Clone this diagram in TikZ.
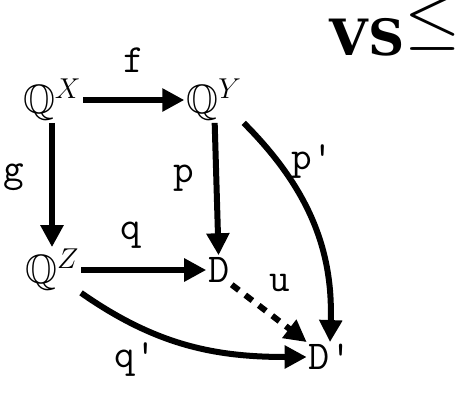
\RequirePackage{fix-cm}
\documentclass[tikz,border=0pt]{standalone}
\usepackage{amssymb}
\usepackage{fontspec}
\newfontfamily\vsfont{DejaVu Serif}
\usetikzlibrary{arrows.meta}

\begin{document}
\begin{tikzpicture}[x=1pt, y=-1pt,
		obj/.style={inner sep=2pt, font=\fontsize{41}{46}\selectfont\ttfamily},
		lab/.style={inner sep=1pt, font=\fontsize{40}{46}\selectfont\ttfamily},
		arr/.style={line width=6pt, -{Triangle[length=22pt, width=22pt]}},
		dsh/.style={arr, dash pattern=on 9pt off 8pt}]
	\useasboundingbox (0,0) rectangle (461,394);
	% title
	\node[font=\fontsize{50}{56}\selectfont\vsfont\bfseries, inner sep=0pt, anchor=base west] (title) at (329,55) {VS\raisebox{15pt}{\scalebox{1.45}{$\le$}}};
	% objects
	\node[obj] (qx) at (52,100) {$\mathbb{Q}^X$};
	\node[obj] (qy) at (214,100) {$\mathbb{Q}^Y$};
	\node[obj] (qz) at (52,270) {$\mathbb{Q}^Z$};
	\node[obj] (d) at (219,270) {D};
	\node[obj] (dp) at (330,357) {D'};
	% arrows
	\draw[arr] (qx) -- node[lab, above=24pt] {f} (qy);
	\draw[arr] (qx) -- node[lab, pos=0.44, left=24pt] {g} (qz);
	\draw[arr] (qy) -- node[lab, pos=0.42, left=18pt] {p} (d);
	\draw[arr] (qz) -- node[lab, pos=0.4, above=18pt] {q} (d);
	\draw[dsh] (d.south east) -- node[lab, anchor=south west, yshift=18pt, xshift=-4pt] {u} (dp.north west);
	\draw[arr] (qy.south east) to[out=-45, in=88] node[lab, pos=0.2, right=10pt] {p'} (dp.north);
	\draw[arr] (qz.south east) to[out=-35, in=180] node[lab, pos=0.25, below=14pt] {q'} (dp.west);
\end{tikzpicture}
\end{document}
